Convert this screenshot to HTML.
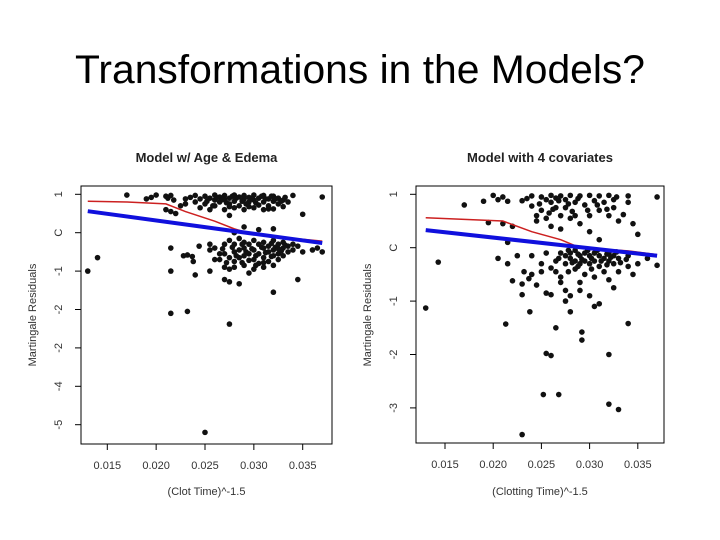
<!DOCTYPE html>
<html><head><meta charset="utf-8"><style>
html,body{margin:0;padding:0;background:#fff;}
svg{display:block;font-family:"Liberation Sans",Arial,sans-serif;}
</style></head><body>
<svg id="s" width="720" height="540" viewBox="0 0 720 540">
<text x="360" y="83" text-anchor="middle" font-size="40" textLength="570" lengthAdjust="spacingAndGlyphs" fill="#000">Transformations in the Models?</text>
<g id="left"></g>
<g id="right"></g>
</svg>
<script>
const NS="http://www.w3.org/2000/svg";
const xTicks=[0.015,0.020,0.025,0.030,0.035];
const xTickLabels=["0.015","0.020","0.025","0.030","0.035"];
const leftYTicks=[1,0,-1,-2,-3,-4,-5];
const leftYTickLabels=["1","C","-1","-2","-2","-4","-5"];
const rightYTicks=[1,0,-1,-2,-3];
const rightYTickLabels=["1","C","-1","-2","-3"];
const leftRedX=[0.013,0.017,0.021,0.023,0.026,0.028,0.030,0.037];
const leftRedY=[0.82,0.80,0.75,0.55,0.30,0.10,-0.05,-0.22];
const leftBlueX=[0.013,0.037];
const leftBlueY=[0.56,-0.27];
const rightRedX=[0.013,0.017,0.021,0.024,0.027,0.029,0.034,0.037];
const rightRedY=[0.56,0.53,0.50,0.30,0.15,0.00,-0.06,-0.13];
const rightBlueX=[0.013,0.037];
const rightBlueY=[0.33,-0.15];
const leftPts=[[0.017,0.98],[0.019,0.88],[0.0195,0.92],[0.020,0.98],[0.021,0.95],[0.0212,0.9],[0.0215,0.97],[0.0218,0.85],[0.021,0.6],[0.0215,0.55],[0.022,0.5],[0.0225,0.7],[0.023,0.88],[0.0235,0.92],[0.024,0.97],[0.024,0.8],[0.0245,0.65],[0.025,0.95],[0.025,0.75],[0.0255,0.9],[0.0255,0.6],[0.026,0.98],[0.026,0.85],[0.026,0.7],[0.0265,0.93],[0.0265,0.8],[0.027,0.97],[0.027,0.88],[0.027,0.6],[0.0275,0.9],[0.0275,0.75],[0.0275,0.45],[0.028,0.98],[0.028,0.82],[0.028,0.65],[0.0285,0.93],[0.0285,0.7],[0.029,0.88],[0.029,0.97],[0.029,0.6],[0.0295,0.8],[0.0295,0.92],[0.030,0.98],[0.030,0.85],[0.030,0.65],[0.0305,0.9],[0.0305,0.72],[0.031,0.97],[0.031,0.8],[0.031,0.6],[0.0315,0.88],[0.0315,0.7],[0.032,0.95],[0.032,0.82],[0.032,0.62],[0.0325,0.9],[0.0325,0.75],[0.033,0.85],[0.033,0.68],[0.0335,0.8],[0.034,0.97],[0.035,0.48],[0.037,0.93],
[0.0245,0.88],[0.0252,0.82],[0.0262,0.92],[0.0268,0.86],[0.0272,0.78],[0.0278,0.95],[0.0282,0.9],[0.0288,0.82],[0.0292,0.75],[0.0298,0.88],[0.0302,0.78],[0.0308,0.95],[0.0312,0.88],[0.0318,0.95],[0.0322,0.88],[0.0328,0.82],[0.0332,0.92],[0.0275,0.68],[0.0295,0.68],[0.0315,0.62],[0.023,0.75],[0.0258,0.7],
[0.0215,-0.4],[0.0228,-0.6],[0.0232,-0.58],[0.0237,-0.62],[0.0238,-0.75],[0.0244,-0.35],[0.024,-1.1],[0.0255,-0.3],[0.0255,-0.45],[0.0255,-1.0],[0.026,-0.7],[0.026,-0.4],[0.0265,-0.55],[0.0265,-0.7],[0.027,-0.3],[0.027,-0.55],[0.027,-0.9],[0.027,-1.22],[0.0275,-0.2],[0.0275,-0.65],[0.0275,-0.95],[0.0275,-1.28],[0.028,-0.3],[0.028,-0.5],[0.028,-0.75],[0.028,-0.9],[0.0285,-0.15],[0.0285,-0.45],[0.0285,-0.65],[0.0285,-1.33],[0.029,-0.25],[0.029,-0.4],[0.029,-0.6],[0.029,-0.85],[0.0295,-0.3],[0.0295,-0.55],[0.0295,-1.05],[0.030,-0.2],[0.030,-0.45],[0.030,-0.7],[0.030,-0.95],[0.0305,-0.3],[0.0305,-0.55],[0.0305,-0.8],[0.031,-0.25],[0.031,-0.4],[0.031,-0.65],[0.031,-0.9],[0.0315,-0.35],[0.0315,-0.5],[0.0315,-0.75],[0.032,-0.2],[0.032,-0.45],[0.032,-0.6],[0.032,-0.85],[0.0325,-0.3],[0.0325,-0.55],[0.0325,-0.7],[0.033,-0.25],[0.033,-0.4],[0.033,-0.6],[0.0335,-0.35],[0.0335,-0.5],[0.034,-0.3],[0.034,-0.45],[0.0345,-0.35],[0.035,-0.5],[0.036,-0.45],[0.0365,-0.4],[0.037,-0.5],
[0.0278,-0.38],[0.0282,-0.6],[0.0288,-0.3],[0.0292,-0.5],[0.0298,-0.42],[0.0302,-0.6],[0.0308,-0.38],[0.0312,-0.52],[0.0318,-0.28],[0.0322,-0.38],[0.0328,-0.48],[0.0332,-0.32],[0.0288,-0.78],[0.0302,-0.85],[0.0318,-0.62],[0.0295,-0.72],[0.031,-0.78],[0.0325,-0.42],[0.0268,-0.42],[0.0272,-0.78],
[0.0345,-1.22],[0.032,-1.55],[0.0275,-2.38],[0.0215,-2.1],[0.0232,-2.05],[0.0215,-1.0],[0.013,-1.0],[0.014,-0.65],[0.025,-5.2],[0.032,0.1],[0.029,0.15],[0.028,0.0],[0.0305,0.08]];
const rightPts=[[0.017,0.8],[0.019,0.87],[0.0195,0.47],[0.020,0.98],[0.0205,0.9],[0.021,0.95],[0.0215,0.87],[0.021,0.45],[0.0215,0.1],[0.0215,-0.3],[0.0205,-0.2],[0.022,0.4],[0.023,0.88],[0.0235,0.92],[0.024,0.97],[0.024,0.78],[0.0245,0.6],[0.0245,0.5],[0.025,0.95],[0.025,0.7],[0.0255,0.9],[0.0255,0.55],[0.026,0.98],[0.026,0.85],[0.026,0.4],[0.0265,0.93],[0.0265,0.75],[0.027,0.97],[0.027,0.6],[0.027,0.35],[0.0275,0.9],[0.0275,0.75],[0.028,0.98],[0.028,0.55],[0.0285,0.85],[0.0285,0.6],[0.029,0.97],[0.029,0.45],[0.0295,0.8],[0.030,0.98],[0.030,0.6],[0.030,0.3],[0.0305,0.88],[0.031,0.97],[0.031,0.7],[0.031,0.15],[0.0315,0.85],[0.032,0.98],[0.032,0.6],[0.0325,0.9],[0.0325,0.75],[0.033,0.5],[0.034,0.85],[0.034,0.97],[0.0345,0.45],[0.035,0.25],[0.037,0.95],
[0.0248,0.82],[0.0258,0.65],[0.0268,0.88],[0.0278,0.82],[0.0288,0.92],[0.0298,0.7],[0.0308,0.8],[0.0318,0.72],[0.0328,0.95],[0.0335,0.62],[0.0262,0.72],[0.0282,0.68],
[0.022,-0.62],[0.0225,-0.15],[0.023,-0.68],[0.023,-0.88],[0.0232,-0.45],[0.0237,-0.58],[0.0238,-1.2],[0.024,-0.5],[0.024,-0.15],[0.0245,-0.7],[0.025,-0.45],[0.025,-0.3],[0.0255,-0.1],[0.026,-0.38],[0.026,-0.88],[0.0265,-0.25],[0.0265,-0.45],[0.027,-0.1],[0.027,-0.55],[0.027,-0.65],[0.0275,-0.15],[0.0275,-0.3],[0.0275,-0.8],[0.0275,-1.0],[0.028,-0.1],[0.028,-0.2],[0.028,-0.9],[0.028,-1.2],[0.0285,-0.05],[0.0285,-0.25],[0.0285,-0.4],[0.029,-0.15],[0.029,-0.3],[0.029,-0.65],[0.029,-0.8],[0.0295,-0.1],[0.0295,-0.25],[0.0295,-0.5],[0.030,-0.15],[0.030,-0.3],[0.030,-0.9],[0.0305,-0.1],[0.0305,-0.25],[0.0305,-0.55],[0.0305,-1.1],[0.031,-0.15],[0.031,-0.35],[0.031,-1.05],[0.0315,-0.2],[0.0315,-0.45],[0.032,-0.1],[0.032,-0.25],[0.032,-0.6],[0.0325,-0.15],[0.0325,-0.3],[0.0325,-0.75],[0.033,-0.2],[0.033,-0.45],[0.034,-0.15],[0.034,-0.35],[0.0345,-0.5],[0.035,-0.3],[0.036,-0.2],[0.037,-0.33],
[0.0278,-0.05],[0.0282,-0.28],[0.0288,-0.12],[0.0292,-0.22],[0.0298,-0.05],[0.0302,-0.2],[0.0308,-0.05],[0.0312,-0.25],[0.0318,-0.12],[0.0322,-0.18],[0.0328,-0.08],[0.0332,-0.28],[0.0288,-0.35],[0.0302,-0.4],[0.0318,-0.32],[0.0278,-0.45],[0.0268,-0.2],[0.0338,-0.22],
[0.034,-1.42],[0.0265,-1.5],[0.0292,-1.58],[0.0292,-1.73],[0.0255,-1.98],[0.026,-2.02],[0.0252,-2.75],[0.0268,-2.75],[0.032,-2.0],[0.032,-2.93],[0.033,-3.03],[0.023,-3.5],[0.0213,-1.43],[0.013,-1.13],[0.0143,-0.27],[0.0255,-0.85]];

function mk(tag,attrs,parent){const e=document.createElementNS(NS,tag);for(const k in attrs)e.setAttribute(k,attrs[k]);parent.appendChild(e);return e;}

function drawChart(g,cfg){
  const sx=v=>cfg.x0px+(v-0.015)/0.005*cfg.xStep;
  const sy=v=>cfg.y1px+(1-v)*cfg.yStep;
  const t=mk('text',{x:(cfg.left+cfg.right)/2,y:162,'text-anchor':'middle','font-size':13,'font-weight':'bold',fill:'#222'},g);
  
  
  t.textContent=cfg.title;
  const box=mk('rect',{x:cfg.left,y:cfg.top,width:cfg.right-cfg.left,height:cfg.bottom-cfg.top,fill:'none',stroke:'#000','stroke-width':1},g);
  
  
  xTicks.forEach((v,i)=>{
    const x=sx(v);
    const tk=mk('line',{x1:x,x2:x,y1:cfg.bottom,y2:cfg.bottom+6,stroke:'#000'},g);
    
    
    const lb=mk('text',{x:x,y:cfg.bottom+25,'text-anchor':'middle','font-size':11,fill:'#333'},g);
    
    
    lb.textContent=xTickLabels[i];
  });
  cfg.yTicks.forEach((v,i)=>{
    const y=sy(v);
    const tk=mk('line',{x1:cfg.left-6,x2:cfg.left,y1:y,y2:y,stroke:'#000'},g);
    
    
    const lx=cfg.left-19;
    const lb=mk('text',{x:lx,y:y,'text-anchor':'middle','font-size':11,fill:'#333',transform:`rotate(-90 ${lx} ${y})`},g);
    
    
    lb.textContent=cfg.yLabels[i];
  });
  const xl=mk('text',{x:(cfg.left+cfg.right)/2,y:495,'text-anchor':'middle','font-size':11,fill:'#333'},g);
  
  
  xl.textContent=cfg.xTitle;
  const yx=cfg.left-45, yy=315;
  const yl=mk('text',{x:yx,y:yy,'text-anchor':'middle','font-size':11,fill:'#333',transform:`rotate(-90 ${yx} ${yy})`},g);
  
  
  yl.textContent='Martingale Residuals';
  cfg.pts.forEach(p=>{
    const c=mk('circle',{cx:sx(p[0]),cy:sy(p[1]),r:2.8,fill:'#111'},g);
    
    
  });
  const red=mk('polyline',{points:cfg.redX.map((v,i)=>sx(v)+','+sy(cfg.redY[i])).join(' '),fill:'none',stroke:'#cc2020','stroke-width':1.5},g);
  
  
  const blue=mk('polyline',{points:cfg.blueX.map((v,i)=>sx(v)+','+sy(cfg.blueY[i])).join(' '),fill:'none',stroke:'#1010dd','stroke-width':4},g);
  
  
}
drawChart(document.getElementById('left'),{title:'Model w/ Age & Edema',xTitle:'(Clot Time)^-1.5',left:81,right:332,top:186,bottom:444,x0px:107.3,xStep:48.85,y1px:194.3,yStep:38.4,yTicks:leftYTicks,yLabels:leftYTickLabels,pts:leftPts,redX:leftRedX,redY:leftRedY,blueX:leftBlueX,blueY:leftBlueY});
drawChart(document.getElementById('right'),{title:'Model with 4 covariates',xTitle:'(Clotting Time)^-1.5',left:416,right:664,top:186,bottom:443,x0px:445,xStep:48.2,y1px:194.3,yStep:53.4,yTicks:rightYTicks,yLabels:rightYTickLabels,pts:rightPts,redX:rightRedX,redY:rightRedY,blueX:rightBlueX,blueY:rightBlueY});
</script>
</body></html>
